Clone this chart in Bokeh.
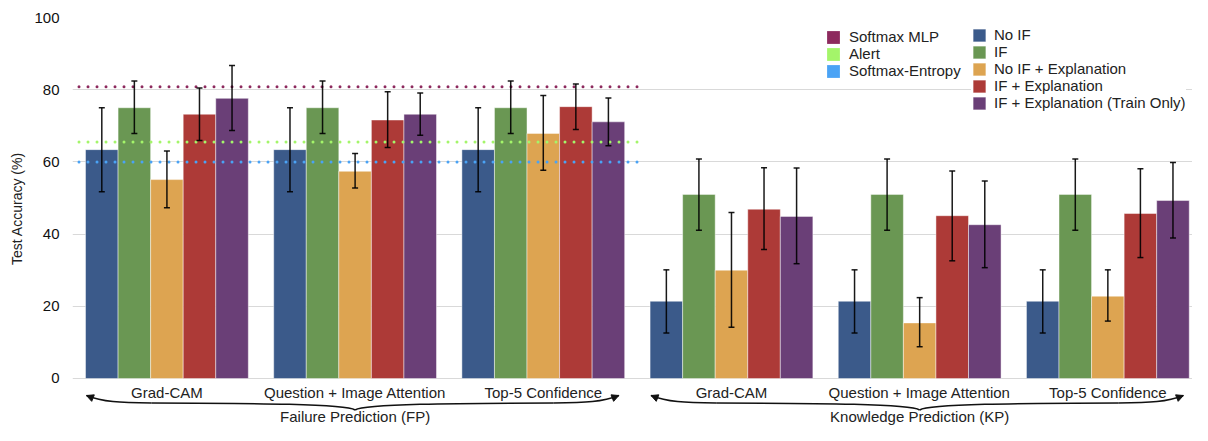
import numpy as np
from bokeh.plotting import figure
from bokeh.layouts import row
from bokeh.models import (ColumnDataSource, Whisker, TeeHead, Legend, LegendItem,
                          FixedTicker, Arrow, NormalHead, Range1d)
from bokeh.core.properties import value
from bokeh.embed import file_html
from bokeh.resources import INLINE

# ---------------- data ----------------
groups = ["Grad-CAM", "Question + Image Attention", "Top-5 Confidence",
          "Grad-CAM", "Question + Image Attention", "Top-5 Confidence"]
tasks = ["Failure Prediction (FP)", "Knowledge Prediction (KP)"]
series = ["No IF", "IF", "No IF + Explanation", "IF + Explanation",
          "IF + Explanation (Train Only)"]
y_title = "Test Accuracy (%)"

no_if = [63.4, 63.4, 63.4, 21.4, 21.4, 21.4]
no_if_lo = [51.7, 51.7, 51.7, 12.6, 12.6, 12.6]
no_if_hi = [75.0, 75.0, 75.0, 30.1, 30.1, 30.1]

if_ = [75.0, 75.0, 75.0, 51.0, 51.0, 51.0]
if_lo = [67.9, 67.9, 67.9, 41.1, 41.1, 41.1]
if_hi = [82.4, 82.4, 82.4, 60.8, 60.8, 60.8]

no_if_exp = [55.1, 57.4, 67.9, 30.0, 15.4, 22.8]
no_if_exp_lo = [47.3, 52.8, 57.7, 14.2, 8.8, 15.9]
no_if_exp_hi = [63.0, 62.3, 78.4, 46.0, 22.4, 30.1]

if_exp = [73.2, 71.6, 75.3, 46.9, 45.1, 45.7]
if_exp_lo = [65.9, 64.0, 69.0, 35.7, 32.6, 33.5]
if_exp_hi = [80.5, 79.4, 81.6, 58.4, 57.5, 58.1]

train_only = [77.6, 73.2, 71.1, 44.9, 42.6, 49.3]
train_only_lo = [68.7, 67.4, 64.5, 31.8, 30.7, 38.9]
train_only_hi = [86.7, 79.1, 77.7, 58.3, 54.7, 59.8]

baselines = ["Softmax MLP", "Alert", "Softmax-Entropy"]
baseline_vals = [80.8, 65.5, 60.0]

y_ticks = [0, 20, 40, 60, 80, 100]

# ---------------- styles / layout ----------------
series_colors = ["#3b5a8a", "#6a9753", "#dda451", "#ad3a37", "#6a3f77"]
baseline_colors = ["#8d2a5e", "#a4f56a", "#4aa3f5"]
FONT = "Liberation Sans"
TXT = "#222222"
OFF, PITCH = 0.4, 5.78
TITLE_W = 30
H = 425


def gstart(g):
    return OFF + g * PITCH


def gx(g, j):
    return gstart(g) + j + 0.5


# narrow strip holding the rotated y-axis title
pl = figure(width=TITLE_W, height=H, output_backend="svg", toolbar_location=None,
            title=None, x_range=Range1d(0, TITLE_W), y_range=Range1d(0, H),
            min_border_left=0, min_border_right=0, min_border_top=0,
            min_border_bottom=0)
pl.outline_line_color = None
pl.axis.visible = False
pl.grid.visible = False
pl.text(x=[16], y=[H - 199], text=[y_title], angle=np.pi / 2,
        text_align="center", text_baseline="middle", text_font=value(FONT),
        text_font_size="14px", text_color=TXT)

p = figure(width=1192 - TITLE_W, height=H, output_backend="svg",
           toolbar_location=None, title=None,
           x_range=Range1d(0, 34.4), y_range=Range1d(-13.02, 100),
           min_border_left=72 - TITLE_W, min_border_right=0, min_border_top=17,
           min_border_bottom=0)
p.outline_line_color = None
p.xaxis.visible = False
p.xgrid.visible = False
p.yaxis.ticker = FixedTicker(ticks=y_ticks)
p.ygrid.ticker = FixedTicker(ticks=y_ticks)
p.ygrid.grid_line_color = "#d9d9d9"
p.ygrid.grid_line_width = 1
p.yaxis.axis_line_color = None
p.yaxis.major_tick_line_color = None
p.yaxis.minor_tick_line_color = None
p.yaxis.major_tick_out = 0
p.yaxis.major_tick_in = 0
p.yaxis.minor_tick_out = 0
p.yaxis.minor_tick_in = 0
p.yaxis.major_label_standoff = 13
p.yaxis.major_label_text_font = FONT
p.yaxis.major_label_text_font_size = "15px"
p.yaxis.major_label_text_color = "#111111"

all_vals = [no_if, if_, no_if_exp, if_exp, train_only]
all_lo = [no_if_lo, if_lo, no_if_exp_lo, if_exp_lo, train_only_lo]
all_hi = [no_if_hi, if_hi, no_if_exp_hi, if_exp_hi, train_only_hi]

bar_renderers = []
whisk_sources = []
for j, (vals, lo, hi) in enumerate(zip(all_vals, all_lo, all_hi)):
    src = ColumnDataSource(dict(x=[gx(g, j) for g in range(len(groups))],
                                top=vals, lo=lo, hi=hi))
    r = p.vbar(x="x", top="top", bottom=0, width=1.0, source=src,
               fill_color=series_colors[j], line_color="white", line_alpha=0.45,
               line_width=1)
    bar_renderers.append(r)
    whisk_sources.append(src)

# baseline dotted lines (span the Failure Prediction region)
bsrc = ColumnDataSource(dict(x0=[0.2] * 3,
                             x1=[gstart(2) + 5 + 0.39] * 3,
                             y=baseline_vals, c=baseline_colors))
p.segment(x0="x0", x1="x1", y0="y", y1="y", source=bsrc, line_color="c",
          line_width=3, line_dash="0 9", line_cap="round")
# zero-size marks carrying the baseline colours for the legend squares
base_r = p.vbar(x="x0", top="y", bottom="y", width=0, source=bsrc,
                fill_color="c", line_color=None)

for src in whisk_sources:
    head = dict(size=6, line_color="black", line_width=1.5, line_alpha=0.9)
    w = Whisker(source=src, base="x", upper="hi", lower="lo",
                line_color="black", line_width=1.5, line_alpha=0.9,
                upper_head=TeeHead(**head), lower_head=TeeHead(**head),
                level="annotation")
    p.add_layout(w)

leg_kw = dict(background_fill_color="white", background_fill_alpha=1.0,
              border_line_color=None, padding=4, spacing=0, margin=0,
              glyph_width=16, glyph_height=16, label_height=17,
              label_text_font_size="15px",
              label_text_font=FONT, label_text_color=TXT)

# frame is 408 px tall; legend locations are from the frame's bottom-left
legend1 = Legend(items=[LegendItem(label=n, renderers=[base_r], index=i)
                        for i, n in enumerate(baselines)],
                 location=(753, 346), label_standoff=8, **leg_kw)
legend2 = Legend(items=[LegendItem(label=n, renderers=[r])
                        for n, r in zip(series, bar_renderers)],
                 location=(899, 314), label_standoff=7, **leg_kw)
p.add_layout(legend1)
p.add_layout(legend2)

# ---------------- group labels, braces, task labels -------------
p.text(x=[gstart(g) + 2.5 for g in range(len(groups))], y=[-3.88] * len(groups),
       text=groups, text_align="center", text_baseline="middle",
       text_font=value(FONT), text_font_size="15px", text_color=TXT)

Y_TIP, Y_FLAT, Y_CUSP = -4.71, -6.79, -8.73
for t, name in enumerate(tasks):
    g0 = 3 * t
    xc = gstart(g0 + 1) + 2.5
    xl = gstart(g0) + 0.03
    xrr = gstart(g0 + 2) + 5 - 0.18
    p.text(x=[xc], y=[-10.53], text=[name], text_align="center",
           text_baseline="middle", text_font=value(FONT),
           text_font_size="15px", text_color=TXT)
    for xt, d in ((xl, 1), (xrr, -1)):
        p.bezier(x0=[xt, xt + d * 2.0], y0=[Y_TIP, Y_FLAT],
                 x1=[xt + d * 2.0, xc], y1=[Y_FLAT, Y_CUSP],
                 cx0=[xt + d * 0.5, xc - d * 3.0], cy0=[-6.51, -6.84],
                 cx1=[xt + d * 1.0, xc - d * 0.3], cy1=[-6.73, -7.06],
                 line_color="#111111", line_width=1.5)
        p.add_layout(Arrow(end=NormalHead(size=7, fill_color="#111111",
                                          line_color="#111111", line_width=1),
                           x_start=xt + d * 0.15, y_start=-5.25,
                           x_end=xt, y_end=Y_TIP, line_alpha=0))

layout = row(pl, p, spacing=0)
open("out.html", "w").write(file_html(layout, INLINE))
